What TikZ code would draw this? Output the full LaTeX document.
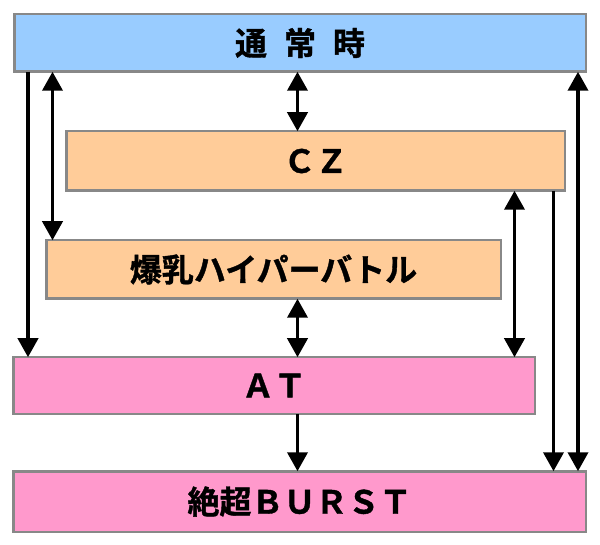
\documentclass[tikz,border=0pt]{standalone}
\usepackage{fontspec}
\newfontfamily\jpfont[FakeBold=1.2]{Noto Sans CJK JP Bold}
\usetikzlibrary{arrows.meta}
\definecolor{boxblue}{HTML}{99CCFF}
\definecolor{boxorange}{HTML}{FFCC99}
\definecolor{boxpink}{HTML}{FF99CC}
\definecolor{boxgray}{HTML}{888888}
\begin{document}
\begin{tikzpicture}[x=1pt,y=-1pt,
  statebox/.style={draw=boxgray,line width=2.5pt,rectangle,inner sep=0pt,outer sep=0pt,
    font=\jpfont\fontsize{32pt}{36pt}\selectfont,text=black},
  tip/.tip={Triangle[width=20pt,length=19pt]},
  arr/.style={line width=3.8pt,-tip},
  dbl/.style={line width=3.8pt,tip-tip}]
\useasboundingbox (0,0) rectangle (600,545);
\fill[white] (0,0) rectangle (600,545);
\node[statebox,fill=boxblue,minimum width=571.5pt,minimum height=57.5pt] (top) at (300,43) {通\hspace{17pt}常\hspace{17pt}時};
\node[statebox,fill=boxorange,minimum width=498.5pt,minimum height=59.5pt] (cz) at (315.5,161) {ＣＺ};
\node[statebox,fill=boxorange,minimum width=454.5pt,minimum height=58.5pt] (hyper) at (273.5,269.5) {爆乳ハイパーバトル};
\node[statebox,fill=boxpink,minimum width=521.5pt,minimum height=56.5pt] (at) at (274,385.5) {ＡＴ};
\node[statebox,fill=boxpink,minimum width=572.5pt,minimum height=60.5pt] (burst) at (299.5,501.5) {絶超ＢＵＲＳＴ};
\coordinate (c28) at (28,0);
\coordinate (c52) at (52.5,0);
\coordinate (c298) at (297.5,0);
\coordinate (c515) at (514.5,0);
\coordinate (c554) at (553.5,0);
\coordinate (c578) at (578,0);
\draw[arr] (top.south -| c28) -- (at.north -| c28);
\draw[dbl] (top.south -| c52) -- (hyper.north -| c52);
\draw[dbl] (top.south -| c298) -- (cz.north -| c298);
\draw[dbl] (hyper.south -| c298) -- (at.north -| c298);
\draw[arr] (at.south -| c298) -- (burst.north -| c298);
\draw[dbl] (cz.south -| c515) -- (at.north -| c515);
\draw[arr] (cz.south -| c554) -- (burst.north -| c554);
\draw[dbl] (top.south -| c578) -- (burst.north -| c578);
\end{tikzpicture}
\end{document}
